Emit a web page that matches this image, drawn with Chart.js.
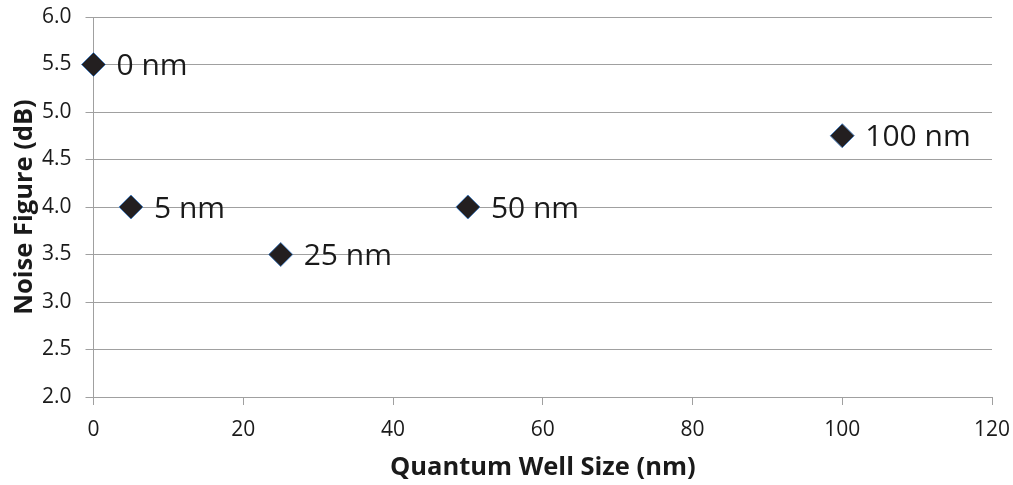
<!DOCTYPE html>
<html>
<head>
<meta charset="utf-8">
<script src="https://cdn.jsdelivr.net/npm/chart.js@4.4.0/dist/chart.umd.min.js"></script>
<style>
  html, body { margin: 0; padding: 0; background: #fff; }
  #wrap { width: 1013px; height: 485px; }
</style>
</head>
<body>
<div id="wrap"><canvas id="chart" width="1013" height="485"></canvas></div>
<script>
// Quantum well size vs noise figure
const wellSizes = [0, 5, 25, 50, 100];
const noiseFigures = [5.5, 4.0, 3.5, 4.0, 4.75];
const pointLabels = ['0 nm', '5 nm', '25 nm', '50 nm', '100 nm'];

const GRID = '#a0a0a0';
const TEXT = '#1a1a1a';
const FONT = "'Open Sans', 'DejaVu Sans', sans-serif";

// draws the "xx nm" text to the right of each marker
const pointLabelPlugin = {
  id: 'pointLabels',
  afterDatasetsDraw(chart) {
    const ctx = chart.ctx;
    const meta = chart.getDatasetMeta(0);
    ctx.save();
    ctx.font = '30px ' + FONT;
    ctx.fillStyle = TEXT;
    ctx.textAlign = 'left';
    ctx.textBaseline = 'middle';
    meta.data.forEach((pt, i) => {
      ctx.fillText(pointLabels[i], pt.x + 23, pt.y + 2);
    });
    ctx.restore();
  }
};

new Chart(document.getElementById('chart'), {
  type: 'scatter',
  data: {
    datasets: [{
      data: wellSizes.map((x, i) => ({ x: x, y: noiseFigures[i] })),
      clip: false,
      pointStyle: 'rectRot',
      pointRadius: 12,
      pointHoverRadius: 12,
      backgroundColor: '#231f20',
      borderColor: '#4a7ebb',
      borderWidth: 1
    }]
  },
  options: {
    responsive: false,
    animation: false,
    layout: { padding: { top: 17, right: 21, left: 0, bottom: 0 } },
    plugins: {
      legend: { display: false },
      tooltip: { enabled: false }
    },
    scales: {
      x: {
        type: 'linear',
        min: 0,
        max: 120,
        afterFit: s => { s.height = 88; s.paddingLeft = 0; s.paddingRight = 0; },
        ticks: {
          stepSize: 20,
          padding: 12,
          color: TEXT,
          font: { family: FONT, size: 21 }
        },
        grid: { drawOnChartArea: false, drawTicks: true, tickLength: 8, color: GRID },
        border: { display: true, color: GRID },
        title: {
          display: true,
          text: 'Quantum Well Size (nm)',
          color: TEXT,
          padding: { top: 0, bottom: 2 },
          font: { family: FONT, size: 25.5, weight: 'bold' }
        }
      },
      y: {
        min: 2,
        max: 6,
        afterFit: s => { s.width = 93.5; s.paddingTop = 0; s.paddingBottom = 0; },
        ticks: {
          stepSize: 0.5,
          padding: 14,
          color: TEXT,
          font: { family: FONT, size: 21 },
          callback: v => v.toFixed(1)
        },
        grid: { color: GRID, tickLength: 8 },
        border: { display: true, color: GRID },
        title: {
          display: true,
          text: 'Noise Figure (dB)',
          color: TEXT,
          padding: { top: 9, bottom: 0 },
          font: { family: FONT, size: 25.5, weight: 'bold' }
        }
      }
    }
  },
  plugins: [pointLabelPlugin]
});
</script>
</body>
</html>
